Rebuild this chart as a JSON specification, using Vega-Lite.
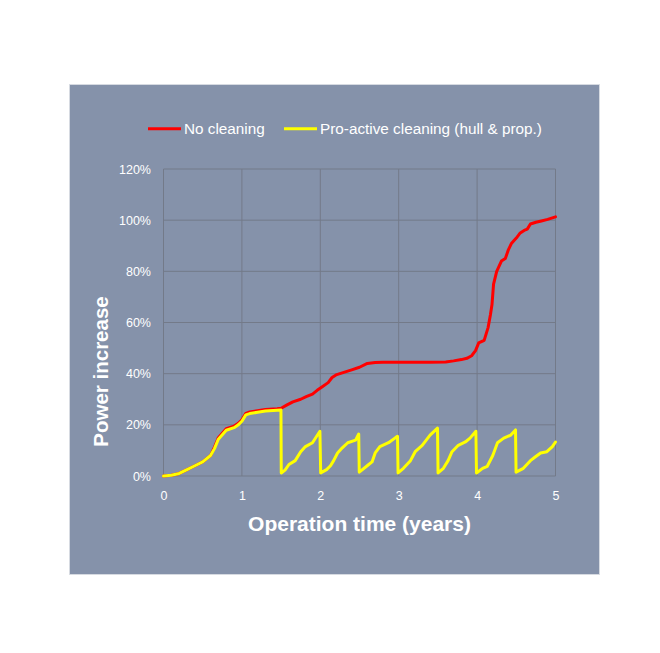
{
  "$schema": "https://vega.github.io/schema/vega-lite/v6.json",
  "width": 530,
  "height": 490,
  "autosize": {"type": "none"},
  "padding": {"left": 69, "top": 84, "right": 61, "bottom": 79},
  "background": "#ffffff",
  "config": {
    "view": {"fill": "#8592AA", "stroke": "#d6dae1", "strokeWidth": 1},
    "font": "Liberation Sans"
  },
  "datasets": {
    "xgrid": [{"years": 0}, {"years": 1}, {"years": 2}, {"years": 3}, {"years": 4}, {"years": 5}],
    "ygrid": [{"power": 0}, {"power": 20}, {"power": 40}, {"power": 60}, {"power": 80}, {"power": 100}, {"power": 120}],
    "series": [
      {"series": "No cleaning", "years": 0, "power": 0},
      {"series": "No cleaning", "years": 0.1, "power": 0.3},
      {"series": "No cleaning", "years": 0.2, "power": 1},
      {"series": "No cleaning", "years": 0.3, "power": 2.5},
      {"series": "No cleaning", "years": 0.4, "power": 4},
      {"series": "No cleaning", "years": 0.5, "power": 5.5},
      {"series": "No cleaning", "years": 0.6, "power": 8},
      {"series": "No cleaning", "years": 0.65, "power": 11.3},
      {"series": "No cleaning", "years": 0.7, "power": 15},
      {"series": "No cleaning", "years": 0.8, "power": 18.5},
      {"series": "No cleaning", "years": 0.9, "power": 19.5},
      {"series": "No cleaning", "years": 0.95, "power": 20.5},
      {"series": "No cleaning", "years": 1.0, "power": 22},
      {"series": "No cleaning", "years": 1.05, "power": 24.5},
      {"series": "No cleaning", "years": 1.1, "power": 25},
      {"series": "No cleaning", "years": 1.2, "power": 25.5},
      {"series": "No cleaning", "years": 1.3, "power": 26},
      {"series": "No cleaning", "years": 1.45, "power": 26.3},
      {"series": "No cleaning", "years": 1.5, "power": 26.5},
      {"series": "No cleaning", "years": 1.57, "power": 27.7},
      {"series": "No cleaning", "years": 1.65, "power": 29},
      {"series": "No cleaning", "years": 1.75, "power": 30},
      {"series": "No cleaning", "years": 1.82, "power": 31},
      {"series": "No cleaning", "years": 1.9, "power": 32},
      {"series": "No cleaning", "years": 1.96, "power": 33.5},
      {"series": "No cleaning", "years": 2.03, "power": 35},
      {"series": "No cleaning", "years": 2.1, "power": 36.5},
      {"series": "No cleaning", "years": 2.15, "power": 38.5},
      {"series": "No cleaning", "years": 2.2, "power": 39.5},
      {"series": "No cleaning", "years": 2.3, "power": 40.5},
      {"series": "No cleaning", "years": 2.4, "power": 41.5},
      {"series": "No cleaning", "years": 2.5, "power": 42.5},
      {"series": "No cleaning", "years": 2.6, "power": 44},
      {"series": "No cleaning", "years": 2.7, "power": 44.4},
      {"series": "No cleaning", "years": 2.8, "power": 44.5},
      {"series": "No cleaning", "years": 3.0, "power": 44.5},
      {"series": "No cleaning", "years": 3.2, "power": 44.5},
      {"series": "No cleaning", "years": 3.4, "power": 44.5},
      {"series": "No cleaning", "years": 3.6, "power": 44.6},
      {"series": "No cleaning", "years": 3.7, "power": 45},
      {"series": "No cleaning", "years": 3.8, "power": 45.5},
      {"series": "No cleaning", "years": 3.87, "power": 46},
      {"series": "No cleaning", "years": 3.93, "power": 47},
      {"series": "No cleaning", "years": 3.98, "power": 49},
      {"series": "No cleaning", "years": 4.02, "power": 52},
      {"series": "No cleaning", "years": 4.09, "power": 53},
      {"series": "No cleaning", "years": 4.14, "power": 58},
      {"series": "No cleaning", "years": 4.17, "power": 63},
      {"series": "No cleaning", "years": 4.19, "power": 67},
      {"series": "No cleaning", "years": 4.21, "power": 75},
      {"series": "No cleaning", "years": 4.25, "power": 80},
      {"series": "No cleaning", "years": 4.31, "power": 84},
      {"series": "No cleaning", "years": 4.36, "power": 85},
      {"series": "No cleaning", "years": 4.4, "power": 88.5},
      {"series": "No cleaning", "years": 4.44, "power": 91},
      {"series": "No cleaning", "years": 4.5, "power": 93},
      {"series": "No cleaning", "years": 4.55, "power": 95},
      {"series": "No cleaning", "years": 4.6, "power": 96},
      {"series": "No cleaning", "years": 4.64, "power": 96.5},
      {"series": "No cleaning", "years": 4.68, "power": 98.5},
      {"series": "No cleaning", "years": 4.75, "power": 99.2},
      {"series": "No cleaning", "years": 4.82, "power": 99.7},
      {"series": "No cleaning", "years": 4.9, "power": 100.3},
      {"series": "No cleaning", "years": 5.0, "power": 101.3},

      {"series": "Pro-active cleaning (hull & prop.)", "years": 0, "power": 0},
      {"series": "Pro-active cleaning (hull & prop.)", "years": 0.1, "power": 0.3},
      {"series": "Pro-active cleaning (hull & prop.)", "years": 0.2, "power": 1},
      {"series": "Pro-active cleaning (hull & prop.)", "years": 0.3, "power": 2.5},
      {"series": "Pro-active cleaning (hull & prop.)", "years": 0.4, "power": 4},
      {"series": "Pro-active cleaning (hull & prop.)", "years": 0.5, "power": 5.5},
      {"series": "Pro-active cleaning (hull & prop.)", "years": 0.6, "power": 8},
      {"series": "Pro-active cleaning (hull & prop.)", "years": 0.65, "power": 10.7},
      {"series": "Pro-active cleaning (hull & prop.)", "years": 0.7, "power": 14.4},
      {"series": "Pro-active cleaning (hull & prop.)", "years": 0.8, "power": 17.9},
      {"series": "Pro-active cleaning (hull & prop.)", "years": 0.9, "power": 18.9},
      {"series": "Pro-active cleaning (hull & prop.)", "years": 0.95, "power": 19.9},
      {"series": "Pro-active cleaning (hull & prop.)", "years": 1.0, "power": 21.4},
      {"series": "Pro-active cleaning (hull & prop.)", "years": 1.05, "power": 23.9},
      {"series": "Pro-active cleaning (hull & prop.)", "years": 1.1, "power": 24.4},
      {"series": "Pro-active cleaning (hull & prop.)", "years": 1.2, "power": 24.9},
      {"series": "Pro-active cleaning (hull & prop.)", "years": 1.3, "power": 25.4},
      {"series": "Pro-active cleaning (hull & prop.)", "years": 1.45, "power": 25.7},
      {"series": "Pro-active cleaning (hull & prop.)", "years": 1.498, "power": 25.8},
      {"series": "Pro-active cleaning (hull & prop.)", "years": 1.502, "power": 1.2},
      {"series": "Pro-active cleaning (hull & prop.)", "years": 1.55, "power": 2.3},
      {"series": "Pro-active cleaning (hull & prop.)", "years": 1.6, "power": 4.5},
      {"series": "Pro-active cleaning (hull & prop.)", "years": 1.68, "power": 6},
      {"series": "Pro-active cleaning (hull & prop.)", "years": 1.75, "power": 9.5},
      {"series": "Pro-active cleaning (hull & prop.)", "years": 1.81, "power": 11.5},
      {"series": "Pro-active cleaning (hull & prop.)", "years": 1.9, "power": 13},
      {"series": "Pro-active cleaning (hull & prop.)", "years": 1.995, "power": 17.5},
      {"series": "Pro-active cleaning (hull & prop.)", "years": 2.005, "power": 1.2},
      {"series": "Pro-active cleaning (hull & prop.)", "years": 2.08, "power": 2.5},
      {"series": "Pro-active cleaning (hull & prop.)", "years": 2.13, "power": 4},
      {"series": "Pro-active cleaning (hull & prop.)", "years": 2.17, "power": 6},
      {"series": "Pro-active cleaning (hull & prop.)", "years": 2.22, "power": 9},
      {"series": "Pro-active cleaning (hull & prop.)", "years": 2.28, "power": 11},
      {"series": "Pro-active cleaning (hull & prop.)", "years": 2.35, "power": 13},
      {"series": "Pro-active cleaning (hull & prop.)", "years": 2.45, "power": 14},
      {"series": "Pro-active cleaning (hull & prop.)", "years": 2.49, "power": 16.4},
      {"series": "Pro-active cleaning (hull & prop.)", "years": 2.497, "power": 1.5},
      {"series": "Pro-active cleaning (hull & prop.)", "years": 2.61, "power": 4.3},
      {"series": "Pro-active cleaning (hull & prop.)", "years": 2.66, "power": 5.5},
      {"series": "Pro-active cleaning (hull & prop.)", "years": 2.7, "power": 9},
      {"series": "Pro-active cleaning (hull & prop.)", "years": 2.76, "power": 11.5},
      {"series": "Pro-active cleaning (hull & prop.)", "years": 2.87, "power": 13},
      {"series": "Pro-active cleaning (hull & prop.)", "years": 2.96, "power": 15},
      {"series": "Pro-active cleaning (hull & prop.)", "years": 2.985, "power": 15.5},
      {"series": "Pro-active cleaning (hull & prop.)", "years": 2.992, "power": 1.2},
      {"series": "Pro-active cleaning (hull & prop.)", "years": 3.06, "power": 3},
      {"series": "Pro-active cleaning (hull & prop.)", "years": 3.15, "power": 6},
      {"series": "Pro-active cleaning (hull & prop.)", "years": 3.21, "power": 9.5},
      {"series": "Pro-active cleaning (hull & prop.)", "years": 3.3, "power": 12},
      {"series": "Pro-active cleaning (hull & prop.)", "years": 3.4, "power": 16},
      {"series": "Pro-active cleaning (hull & prop.)", "years": 3.495, "power": 18.7},
      {"series": "Pro-active cleaning (hull & prop.)", "years": 3.502, "power": 1.2},
      {"series": "Pro-active cleaning (hull & prop.)", "years": 3.57, "power": 3},
      {"series": "Pro-active cleaning (hull & prop.)", "years": 3.63, "power": 6},
      {"series": "Pro-active cleaning (hull & prop.)", "years": 3.68, "power": 9.5},
      {"series": "Pro-active cleaning (hull & prop.)", "years": 3.76, "power": 12},
      {"series": "Pro-active cleaning (hull & prop.)", "years": 3.85, "power": 13.3},
      {"series": "Pro-active cleaning (hull & prop.)", "years": 3.91, "power": 14.8},
      {"series": "Pro-active cleaning (hull & prop.)", "years": 3.985, "power": 17.5},
      {"series": "Pro-active cleaning (hull & prop.)", "years": 3.992, "power": 1.2},
      {"series": "Pro-active cleaning (hull & prop.)", "years": 4.07, "power": 3},
      {"series": "Pro-active cleaning (hull & prop.)", "years": 4.13, "power": 3.8},
      {"series": "Pro-active cleaning (hull & prop.)", "years": 4.2, "power": 8},
      {"series": "Pro-active cleaning (hull & prop.)", "years": 4.26, "power": 13},
      {"series": "Pro-active cleaning (hull & prop.)", "years": 4.34, "power": 14.8},
      {"series": "Pro-active cleaning (hull & prop.)", "years": 4.43, "power": 16},
      {"series": "Pro-active cleaning (hull & prop.)", "years": 4.49, "power": 18},
      {"series": "Pro-active cleaning (hull & prop.)", "years": 4.497, "power": 1.5},
      {"series": "Pro-active cleaning (hull & prop.)", "years": 4.59, "power": 3},
      {"series": "Pro-active cleaning (hull & prop.)", "years": 4.68, "power": 6},
      {"series": "Pro-active cleaning (hull & prop.)", "years": 4.74, "power": 7.4},
      {"series": "Pro-active cleaning (hull & prop.)", "years": 4.81, "power": 9},
      {"series": "Pro-active cleaning (hull & prop.)", "years": 4.89, "power": 9.5},
      {"series": "Pro-active cleaning (hull & prop.)", "years": 4.96, "power": 11.5},
      {"series": "Pro-active cleaning (hull & prop.)", "years": 5.0, "power": 13.3}
    ]
  },
  "layer": [
    {
      "data": {"name": "xgrid"},
      "mark": {"type": "rule", "color": "#737a89", "strokeWidth": 1},
      "encoding": {
        "x": {"field": "years", "type": "quantitative", "scale": {"domain": [0, 5], "range": [94.5, 486.5], "nice": false, "zero": false}},
        "y": {"datum": 0, "type": "quantitative", "scale": {"domain": [0, 120], "range": [392, 85], "nice": false, "zero": false}},
        "y2": {"datum": 120}
      }
    },
    {
      "data": {"name": "ygrid"},
      "mark": {"type": "rule", "color": "#737a89", "strokeWidth": 1},
      "encoding": {
        "y": {"field": "power", "type": "quantitative"},
        "x": {"datum": 0, "type": "quantitative"},
        "x2": {"datum": 5}
      }
    },
    {
      "data": {"name": "series"},
      "transform": [{"filter": "datum.series === 'No cleaning'"}],
      "mark": {"type": "line", "strokeWidth": 3, "strokeJoin": "round", "strokeCap": "round"},
      "encoding": {
        "x": {
          "field": "years", "type": "quantitative",
          "axis": {
            "values": [0, 1, 2, 3, 4, 5], "format": "d", "offset": -98, "labelFlush": false,
            "domain": false, "ticks": false, "tickSize": 0, "grid": false,
            "labelPadding": 13, "labelColor": "#ffffff", "labelFontSize": 12.5, "labelFont": "Liberation Sans",
            "title": "Operation time (years)", "titleColor": "#ffffff", "titleFontSize": 21, "titleFontWeight": "bold",
            "titleFont": "Liberation Sans", "titleX": 290, "titleY": 54, "titleAlign": "center", "titleBaseline": "alphabetic"
          }
        },
        "y": {
          "field": "power", "type": "quantitative",
          "axis": {
            "values": [0, 20, 40, 60, 80, 100, 120], "labelExpr": "datum.value + '%'", "offset": -94.5, "labelFlush": false,
            "domain": false, "ticks": false, "tickSize": 0, "grid": false,
            "labelPadding": 13, "labelColor": "#ffffff", "labelFontSize": 12.5, "labelFont": "Liberation Sans",
            "title": "Power increase", "titleColor": "#ffffff", "titleFontSize": 20.5, "titleFontWeight": "bold",
            "titleFont": "Liberation Sans", "titleAngle": -90, "titleX": -56.5, "titleY": 287, "titleAlign": "center", "titleBaseline": "alphabetic"
          }
        },
        "color": {
          "field": "series", "type": "nominal",
          "scale": {"domain": ["No cleaning", "Pro-active cleaning (hull & prop.)"], "range": ["#FF0000", "#FFFF00"]},
          "legend": {
            "orient": "none", "legendX": 77.5, "legendY": 26.5, "direction": "horizontal", "title": null,
            "symbolType": "stroke", "symbolSize": 1089, "symbolStrokeWidth": 3,
            "labelColor": "#ffffff", "labelFontSize": 15.3, "labelFont": "Liberation Sans", "labelOffset": 1.5, "labelLimit": 0,
            "columnPadding": 12, "padding": 0
          }
        }
      }
    },
    {
      "data": {"name": "series"},
      "transform": [{"filter": "datum.series !== 'No cleaning'"}],
      "mark": {"type": "line", "strokeWidth": 3, "strokeJoin": "round", "strokeCap": "round"},
      "encoding": {
        "x": {"field": "years", "type": "quantitative"},
        "y": {"field": "power", "type": "quantitative"},
        "color": {"field": "series", "type": "nominal"}
      }
    }
  ]
}
